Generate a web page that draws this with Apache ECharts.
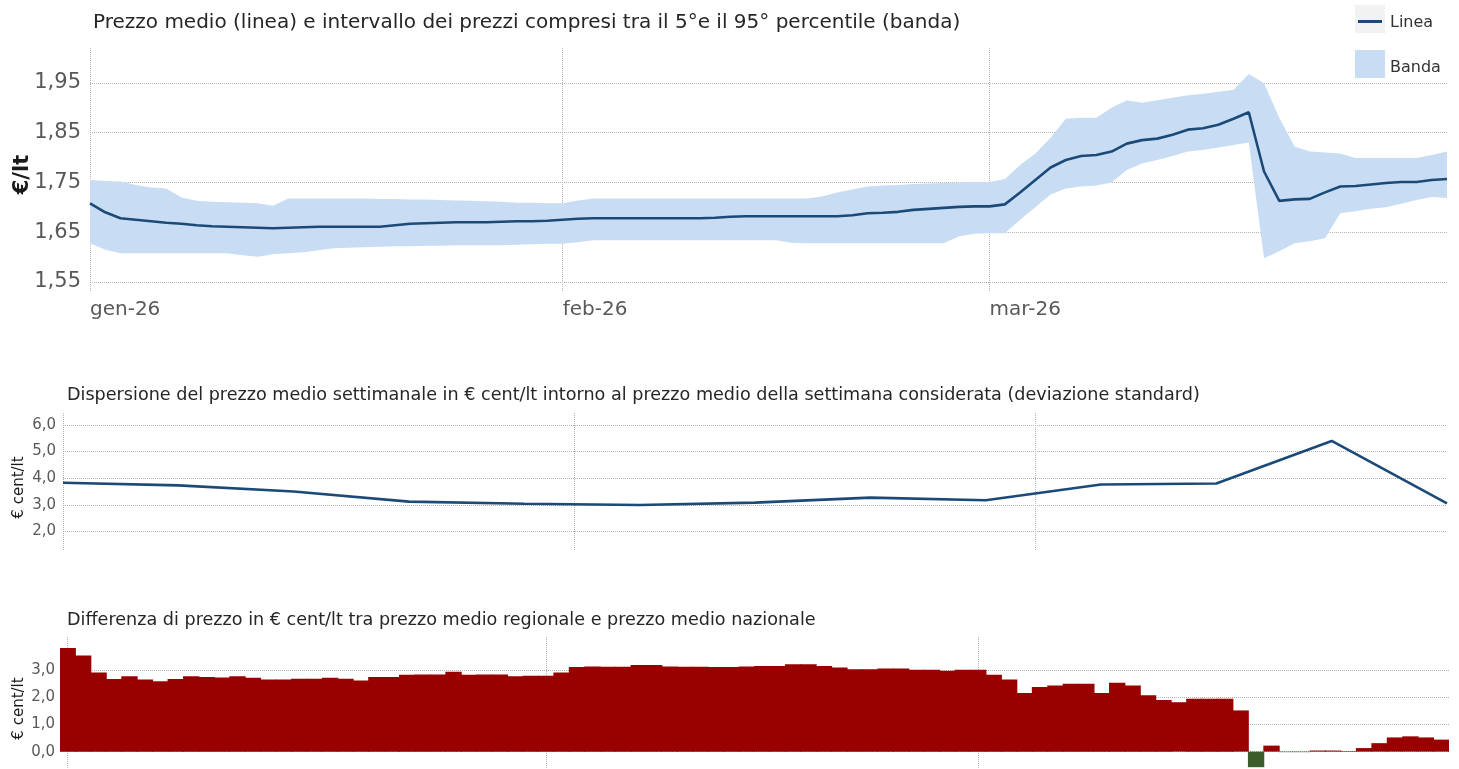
<!DOCTYPE html>
<html>
<head>
<meta charset="utf-8">
<script src="https://cdn.jsdelivr.net/npm/echarts@6/dist/echarts.min.js"></script>
<style>
html, body { margin: 0; padding: 0; background: #fff; }
#chart { width: 1459px; height: 769px; }
</style>
</head>
<body>
<div id="chart"></div>
<script>
var myChart = echarts.init(document.getElementById('chart'), null, {renderer: 'canvas'});

// giorni (gen-mar 2026)
var giorni = [
    '2026-01-01','2026-01-02','2026-01-03','2026-01-04','2026-01-05','2026-01-06','2026-01-07','2026-01-08','2026-01-09','2026-01-10',
    '2026-01-11','2026-01-12','2026-01-13','2026-01-14','2026-01-15','2026-01-16','2026-01-17','2026-01-18','2026-01-19','2026-01-20',
    '2026-01-21','2026-01-22','2026-01-23','2026-01-24','2026-01-25','2026-01-26','2026-01-27','2026-01-28','2026-01-29','2026-01-30',
    '2026-01-31','2026-02-01','2026-02-02','2026-02-03','2026-02-04','2026-02-05','2026-02-06','2026-02-07','2026-02-08','2026-02-09',
    '2026-02-10','2026-02-11','2026-02-12','2026-02-13','2026-02-14','2026-02-15','2026-02-16','2026-02-17','2026-02-18','2026-02-19',
    '2026-02-20','2026-02-21','2026-02-22','2026-02-23','2026-02-24','2026-02-25','2026-02-26','2026-02-27','2026-02-28','2026-03-01',
    '2026-03-02','2026-03-03','2026-03-04','2026-03-05','2026-03-06','2026-03-07','2026-03-08','2026-03-09','2026-03-10','2026-03-11',
    '2026-03-12','2026-03-13','2026-03-14','2026-03-15','2026-03-16','2026-03-17','2026-03-18','2026-03-19','2026-03-20','2026-03-21',
    '2026-03-22','2026-03-23','2026-03-24','2026-03-25','2026-03-26','2026-03-27','2026-03-28','2026-03-29','2026-03-30','2026-03-31'
];
var etichetteMesi = {'2026-01-01': 'gen-26', '2026-02-01': 'feb-26', '2026-03-01': 'mar-26'};

// prezzo medio (linea)
var prezzoMedio = [
    1.708,1.690,1.678,1.675,1.672,1.669,1.667,1.664,1.662,1.661,
    1.660,1.659,1.658,1.659,1.660,1.661,1.661,1.661,1.661,1.661,
    1.664,1.667,1.668,1.669,1.670,1.670,1.670,1.671,1.672,1.672,
    1.673,1.675,1.677,1.678,1.678,1.678,1.678,1.678,1.678,1.678,
    1.678,1.679,1.681,1.682,1.682,1.682,1.682,1.682,1.682,1.682,
    1.684,1.688,1.689,1.691,1.695,1.697,1.699,1.701,1.702,1.702,
    1.706,1.730,1.755,1.780,1.795,1.803,1.805,1.812,1.828,1.835,
    1.838,1.846,1.856,1.859,1.866,1.878,1.891,1.772,1.713,1.716,
    1.717,1.730,1.742,1.743,1.746,1.749,1.751,1.751,1.755,1.757
];
// 95° percentile
var p95 = [
    1.755,1.753,1.752,1.745,1.740,1.738,1.720,1.713,1.711,1.710,
    1.709,1.708,1.703,1.718,1.718,1.718,1.718,1.718,1.718,1.717,
    1.717,1.716,1.716,1.715,1.714,1.713,1.712,1.711,1.709,1.709,
    1.708,1.708,1.714,1.718,1.718,1.718,1.718,1.718,1.718,1.718,
    1.718,1.718,1.718,1.718,1.718,1.718,1.718,1.718,1.722,1.730,
    1.736,1.742,1.744,1.745,1.747,1.748,1.749,1.750,1.751,1.751,
    1.757,1.785,1.808,1.840,1.878,1.880,1.880,1.900,1.915,1.910,
    1.915,1.920,1.925,1.928,1.932,1.936,1.968,1.949,1.880,1.822,
    1.812,1.810,1.808,1.799,1.799,1.799,1.799,1.799,1.805,1.812
];
// 5° percentile
var p5 = [
    1.628,1.615,1.608,1.608,1.608,1.608,1.608,1.608,1.608,1.608,
    1.604,1.601,1.606,1.608,1.610,1.614,1.618,1.619,1.620,1.621,
    1.622,1.622,1.623,1.623,1.624,1.624,1.624,1.624,1.625,1.626,
    1.627,1.627,1.630,1.634,1.634,1.634,1.634,1.634,1.634,1.634,
    1.634,1.634,1.634,1.634,1.634,1.634,1.629,1.628,1.628,1.628,
    1.628,1.628,1.628,1.628,1.628,1.628,1.628,1.642,1.647,1.648,
    1.648,1.675,1.700,1.726,1.738,1.742,1.744,1.750,1.775,1.788,
    1.795,1.803,1.812,1.815,1.820,1.825,1.830,1.598,1.612,1.628,
    1.632,1.638,1.688,1.692,1.697,1.700,1.707,1.715,1.721,1.719
];

// deviazione standard settimanale (€ cent/lt)
var settimane = ['2026-01-01','2026-01-08','2026-01-15','2026-01-22','2026-01-29','2026-02-05','2026-02-12',
    '2026-02-19','2026-02-26','2026-03-05','2026-03-12','2026-03-19','2026-03-26'];
var devStd = [3.83,3.73,3.50,3.12,3.04,2.99,3.08,3.27,3.17,3.76,3.80,5.40,3.05];
var inizioMesi = ['2026-01-01','2026-02-01','2026-03-01'];

// differenza regionale - nazionale (€ cent/lt)
var differenza = [
    3.80,3.52,2.90,2.66,2.76,2.64,2.58,2.66,2.76,2.73,
    2.72,2.76,2.71,2.64,2.64,2.67,2.67,2.71,2.67,2.61,
    2.73,2.73,2.82,2.83,2.83,2.93,2.82,2.83,2.83,2.76,
    2.78,2.78,2.90,3.10,3.12,3.11,3.11,3.17,3.17,3.12,
    3.11,3.11,3.10,3.10,3.12,3.14,3.14,3.20,3.20,3.14,
    3.08,3.02,3.02,3.05,3.05,3.00,3.00,2.96,3.00,3.00,
    2.82,2.64,2.15,2.37,2.42,2.49,2.49,2.15,2.52,2.42,
    2.07,1.89,1.81,1.94,1.94,1.94,1.51,-0.57,0.22,-0.02,
    -0.02,0.04,0.04,0.02,0.13,0.31,0.52,0.56,0.52,0.44
];

var font = "'DejaVu Sans', sans-serif";
var grigioGriglia = '#b3b3b3';
var coloreLinea = '#1c4a78';
var coloreBanda = '#c8ddf4';

function virgola(d) {
    return function (v) { return v.toFixed(d).replace('.', ','); };
}
function isInizioMese(i) {
    return etichetteMesi[giorni[i]] !== undefined;
}
function ts(s) { return +new Date(s); }

var bandaAmpiezza = p95.map(function (v, i) { return +(v - p5[i]).toFixed(3); });
var puntiDev = settimane.map(function (d, i) { return [ts(d), devStd[i]]; });
var barre = differenza.map(function (v) {
    return {value: v, itemStyle: {color: v < 0 ? '#3d5c2c' : '#990000'}};
});

var splitTratt = {show: true, lineStyle: {color: grigioGriglia, type: 'dotted', width: 1}};
var titoloStile = {fontWeight: 'normal', color: '#262626', fontFamily: font};

option = {
    animation: false,
    textStyle: {fontFamily: font},
    title: [
        {text: 'Prezzo medio (linea) e intervallo dei prezzi compresi tra il 5°e il 95° percentile (banda)',
            left: 88, top: 8, textStyle: Object.assign({fontSize: 20}, titoloStile)},
        {text: 'Dispersione del prezzo medio settimanale in € cent/lt intorno al prezzo medio della settimana considerata (deviazione standard)',
            left: 62, top: 381, textStyle: Object.assign({fontSize: 17.6}, titoloStile)},
        {text: 'Differenza di prezzo in € cent/lt tra prezzo medio regionale e prezzo medio nazionale',
            left: 62, top: 606, textStyle: Object.assign({fontSize: 17.6}, titoloStile)}
    ],
    legend: {
        orient: 'vertical',
        left: 1350,
        top: 0,
        itemWidth: 30,
        itemHeight: 28,
        itemGap: 17,
        selectedMode: false,
        formatter: '{t|{name}}',
        textStyle: {
            fontSize: 16, color: '#333', fontFamily: font,
            rich: {t: {fontSize: 16, color: '#333', fontFamily: font, padding: [7, 0, 0, 0]}}
        },
        data: [
            {name: 'Linea', icon: 'path://M0,0h0.2v0.2h-0.2z M3,15h24v3h-24z M29.8,27.8h0.2v0.2h-0.2z', itemStyle: {color: coloreLinea}},
            {name: 'Banda', icon: 'rect', itemStyle: {color: coloreBanda}}
        ]
    },
    graphic: [
        {type: 'rect', left: 1355, top: 5, z: 0, shape: {width: 30, height: 28}, style: {fill: '#f2f2f2'}}
    ],
    grid: [
        {left: 90, right: 12, top: 48, height: 244, outerBoundsMode: 'none'},
        {left: 63, right: 12, top: 413, height: 137, outerBoundsMode: 'none'},
        {left: 60, right: 10, top: 637, height: 131, outerBoundsMode: 'none'}
    ],
    xAxis: [
        {
            gridIndex: 0, type: 'category', data: giorni, boundaryGap: false,
            axisLine: {show: false}, axisTick: {show: false},
            axisLabel: {interval: isInizioMese, align: 'left', margin: 8, fontSize: 20, color: '#595959',
                formatter: function (v) { return etichetteMesi[v] || ''; }},
            splitLine: {show: true, interval: isInizioMese, lineStyle: {color: grigioGriglia, type: 'dotted'}}
        },
        {
            gridIndex: 1, type: 'value', min: ts(settimane[0]), max: ts(settimane[settimane.length - 1]),
            axisLine: {show: false}, axisTick: {show: false, customValues: inizioMesi.map(ts)},
            axisLabel: {show: false},
            splitLine: splitTratt
        },
        {
            gridIndex: 2, type: 'category', data: giorni, boundaryGap: true,
            axisLine: {show: false}, axisTick: {show: false, alignWithLabel: true},
            axisLabel: {show: false},
            splitLine: {show: true, interval: isInizioMese, alignWithLabel: true, lineStyle: {color: grigioGriglia, type: 'dotted'}}
        }
    ],
    yAxis: [
        {
            gridIndex: 0, type: 'value', min: 1.53, max: 2.02,
            name: '€/lt', nameLocation: 'middle', nameGap: 57, nameMoveOverlap: false,
            nameTextStyle: {fontSize: 21, fontWeight: 'bold', color: '#1a1a1a', fontFamily: font, padding: [0, 9, 0, 0]},
            axisLine: {show: false}, axisTick: {show: false, customValues: [1.55, 1.65, 1.75, 1.85, 1.95]},
            axisLabel: {customValues: [1.55, 1.65, 1.75, 1.85, 1.95], fontSize: 21, color: '#595959', margin: 9, formatter: virgola(2)},
            splitLine: splitTratt
        },
        {
            gridIndex: 1, type: 'value', min: 1.3, max: 6.45,
            name: '€ cent/lt', nameLocation: 'middle', nameGap: 36, nameMoveOverlap: false,
            nameTextStyle: {fontSize: 15, color: '#1a1a1a', fontFamily: font, padding: [0, 12, 0, 0]},
            axisLine: {show: false}, axisTick: {show: false, customValues: [2, 3, 4, 5, 6]},
            axisLabel: {customValues: [2, 3, 4, 5, 6], fontSize: 15, color: '#595959', margin: 7, formatter: virgola(1)},
            splitLine: splitTratt
        },
        {
            gridIndex: 2, type: 'value', min: -0.6, max: 4.2,
            name: '€ cent/lt', nameLocation: 'middle', nameGap: 33, nameMoveOverlap: false,
            nameTextStyle: {fontSize: 15, color: '#1a1a1a', fontFamily: font, padding: [0, 12, 0, 0]},
            axisLine: {show: false}, axisTick: {show: false, customValues: [0, 1, 2, 3]},
            axisLabel: {customValues: [0, 1, 2, 3], fontSize: 15, color: '#595959', margin: 5, formatter: virgola(1)},
            splitLine: splitTratt
        }
    ],
    series: [
        {
            name: 'base', type: 'line', xAxisIndex: 0, yAxisIndex: 0, data: p5, stack: 'banda',
            symbol: 'none', lineStyle: {opacity: 0}, silent: true
        },
        {
            name: 'Banda', type: 'line', xAxisIndex: 0, yAxisIndex: 0, data: bandaAmpiezza, stack: 'banda',
            symbol: 'none', lineStyle: {opacity: 0}, itemStyle: {color: coloreBanda},
            areaStyle: {color: coloreBanda, opacity: 1}, silent: true
        },
        {
            name: 'Linea', type: 'line', xAxisIndex: 0, yAxisIndex: 0, data: prezzoMedio,
            symbol: 'none', lineStyle: {color: coloreLinea, width: 2.6}, itemStyle: {color: coloreLinea}
        },
        {
            name: 'Deviazione', type: 'line', xAxisIndex: 1, yAxisIndex: 1, data: puntiDev,
            symbol: 'none', lineStyle: {color: coloreLinea, width: 2.6}
        },
        {
            name: 'Differenza', type: 'bar', xAxisIndex: 2, yAxisIndex: 2, data: barre,
            barWidth: '106%'
        }
    ]
};

myChart.setOption(option);
</script>
</body>
</html>
